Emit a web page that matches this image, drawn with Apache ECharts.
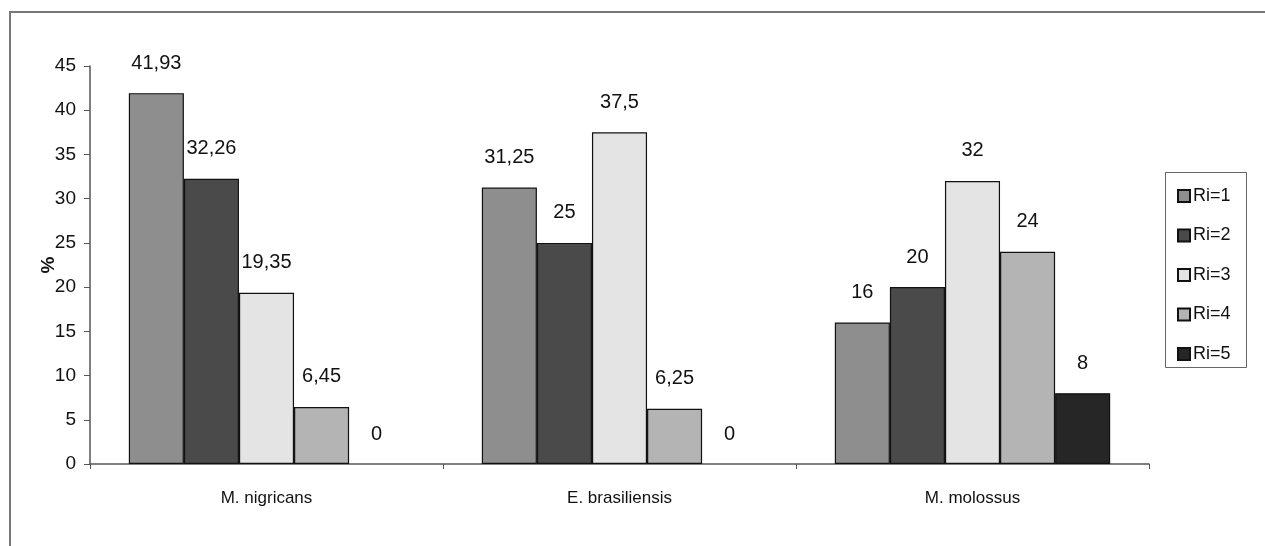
<!DOCTYPE html>
<html>
<head>
<meta charset="utf-8">
<script src="https://cdn.jsdelivr.net/npm/echarts@6/dist/echarts.min.js"></script>
<style>html,body{margin:0;padding:0;background:#fff}#c{width:1265px;height:546px}</style>
</head>
<body>
<div id="c"></div>
<script>
const categories = ['M. nigricans', 'E. brasiliensis', 'M. molossus'];
const seriesNames = ['Ri=1', 'Ri=2', 'Ri=3', 'Ri=4', 'Ri=5'];
const ri1 = [41.93, 31.25, 16];
const ri2 = [32.26, 25, 20];
const ri3 = [19.35, 37.5, 32];
const ri4 = [6.45, 6.25, 24];
const ri5 = [0, 0, 8];
const yTicks = [0, 5, 10, 15, 20, 25, 30, 35, 40, 45];

const values = [ri1, ri2, ri3, ri4, ri5];
const colors = ['#8e8e8e', '#4a4a4a', '#e4e4e4', '#b4b4b4', '#262626'];
const font = 'Liberation Sans, Arial, sans-serif';

const chart = echarts.init(document.getElementById('c'));
chart.setOption({
  animation: false,
  backgroundColor: '#fff',
  graphic: [
    {type: 'rect', shape: {x: 10, y: 12, width: 1300, height: 600}, style: {fill: 'none', stroke: '#777', lineWidth: 2}, silent: true, z: -1},
    {type: 'rect', shape: {x: 1165.5, y: 172.5, width: 81, height: 195}, style: {fill: 'none', stroke: '#666', lineWidth: 1}, silent: true}
  ],
  grid: {left: 90, right: 116, top: 66, bottom: 82},
  legend: {
    orient: 'vertical', left: 1172, top: 181, itemWidth: 12, itemHeight: 12, itemGap: 19.5,
    icon: 'rect',
    data: seriesNames,
    textStyle: {fontFamily: font, fontSize: 18, color: '#111', lineHeight: 20, padding: [0, 0, 0, -2]}
  },
  xAxis: {
    type: 'category', data: categories,
    axisLine: {lineStyle: {color: '#555', width: 1.5}},
    axisTick: {show: true, length: 5, lineStyle: {color: '#555'}},
    axisLabel: {fontFamily: font, fontSize: 17, color: '#111', margin: 26}
  },
  yAxis: {
    type: 'value', min: 0, max: 45, interval: 5,
    name: '%', nameLocation: 'middle', nameGap: 32, nameRotate: 90, nameMoveOverlap: false,
    nameTextStyle: {fontFamily: font, fontSize: 19, fontWeight: 'bold', color: '#111'},
    axisLine: {show: true, lineStyle: {color: '#555', width: 1.5}},
    axisTick: {show: true, length: 6, lineStyle: {color: '#555'}},
    splitLine: {show: false},
    axisLabel: {fontFamily: font, fontSize: 19, color: '#111', margin: 14,
      formatter: v => yTicks.includes(v) ? String(v) : ''}
  },
  series: values.map((vals, i) => ({
    name: seriesNames[i], type: 'bar',
    data: vals.map(v => v === 0 ? {value: v, itemStyle: {borderWidth: 0}} : v),
    barGap: '0%', barCategoryGap: '22%',
    itemStyle: {color: colors[i], borderColor: '#111', borderWidth: 1.2},
    label: {show: true, position: 'top', distance: 20, fontFamily: font, fontSize: 20, color: '#111',
      formatter: p => String(p.value).replace('.', ',')}
  }))
});
</script>
</body>
</html>
